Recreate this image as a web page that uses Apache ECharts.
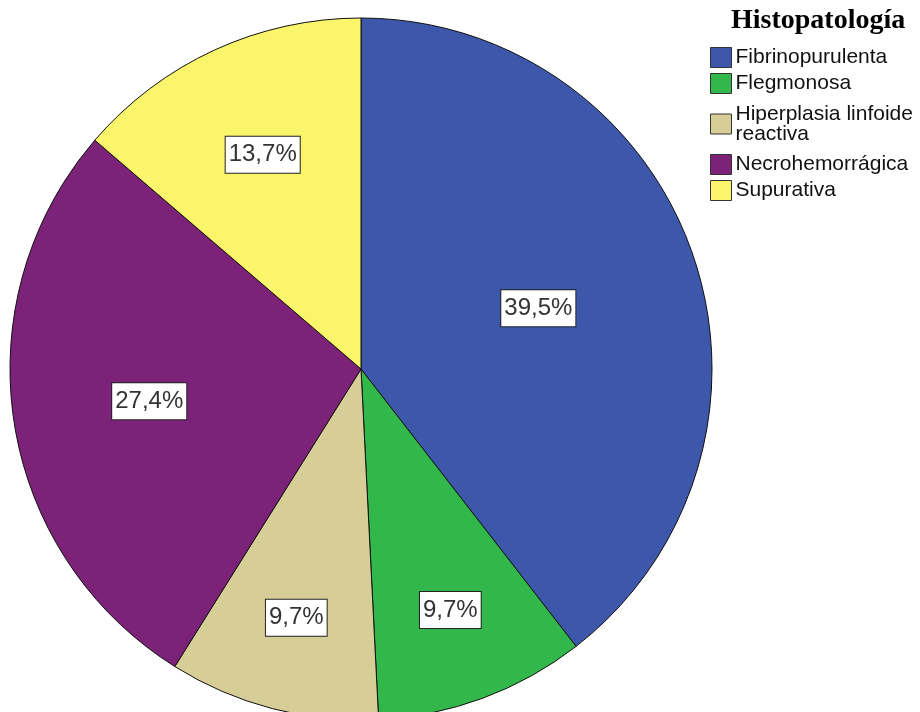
<!DOCTYPE html>
<html>
<head>
<meta charset="utf-8">
<script src="https://cdn.jsdelivr.net/npm/echarts@6/dist/echarts.min.js"></script>
<style>html,body{margin:0;padding:0;background:#fff;}#c{width:920px;height:712px;}</style>
</head>
<body>
<div id="c"></div>
<script>
const categories = ['Fibrinopurulenta', 'Flegmonosa', 'Hiperplasia linfoide reactiva', 'Necrohemorrágica', 'Supurativa'];
const values = [39.5, 9.7, 9.7, 27.4, 13.7];
const colors = ['#3D57AB', '#32B74B', '#D6CD97', '#7C2279', '#FAF56B'];

// label distance from centre as a fraction of the radius (style only)
const labelRadiusFrac = [0.525, 0.72, 0.72, 0.60, 0.66];
const CX = 361, CY = 369, R = 351;

const chart = echarts.init(document.getElementById('c'));
chart.setOption({
  animation: false,
  backgroundColor: '#ffffff',
  title: {
    text: 'Histopatología',
    left: 731, top: 7,
    padding: 0,
    textStyle: { fontFamily: 'Liberation Serif', fontWeight: 'bold', fontSize: 28, color: '#000' }
  },
  legend: {
    orient: 'vertical',
    left: 710, top: 47,
    icon: 'rect',
    itemWidth: 21, itemHeight: 20,
    itemGap: 5,
    padding: 0,
    itemStyle: { borderColor: '#333', borderWidth: 1 },
    formatter: function (n) { return n === 'Hiperplasia linfoide reactiva' ? 'Hiperplasia linfoide\nreactiva' : n; },
    textStyle: { fontFamily: 'Liberation Sans', fontSize: 21, color: '#111', lineHeight: 20, padding: [0, 0, 0, -1] },
    data: categories.map(c => c === 'Hiperplasia linfoide reactiva'
      ? { name: c, textStyle: { padding: [5, 0, 5, -1], lineHeight: 20 } }
      : { name: c })
  },
  series: [{
    type: 'pie',
    center: [CX, CY],
    radius: R,
    startAngle: 90,
    clockwise: true,
    avoidLabelOverlap: false,
    itemStyle: { borderColor: '#111', borderWidth: 1 },
    label: {
      show: true,
      position: 'inside',
      formatter: function (p) { return p.value.toFixed(1).replace('.', ',') + '%'; },
      fontFamily: 'Liberation Sans', fontSize: 24, color: '#333', lineHeight: 28,
      backgroundColor: '#fff', borderColor: '#222', borderWidth: 1,
      padding: [5, 3, 3, 3]
    },
    labelLayout: function (p) {
      const r = p.labelRect;
      const lx = r.x + r.width / 2, ly = r.y + r.height / 2;
      const k = labelRadiusFrac[p.dataIndex] / 0.5;
      return { x: CX + (lx - CX) * k, y: CY + (ly - CY) * k };
    },
    labelLine: { show: false },
    data: categories.map((c, i) => ({ name: c, value: values[i], itemStyle: { color: colors[i] } }))
  }]
});
</script>
</body>
</html>
